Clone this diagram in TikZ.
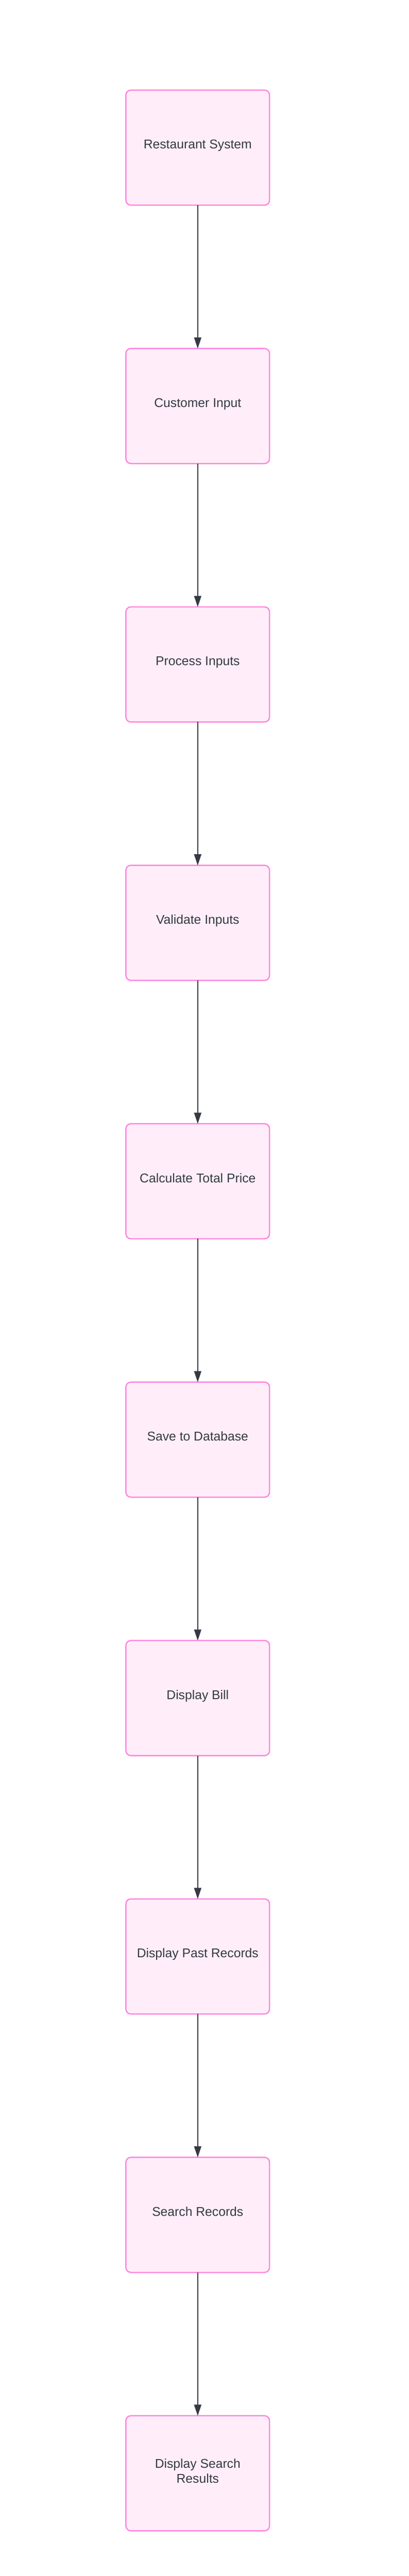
\documentclass[tikz,border=0pt]{standalone}
\usepackage{fontspec}
\setmainfont{Liberation Sans}
\usepackage{tikz}
\usetikzlibrary{positioning,arrows.meta}

\definecolor{boksrand}{RGB}{255,133,223}
\definecolor{boksfyll}{RGB}{255,238,249}
\definecolor{strek}{RGB}{53,57,68}

\begin{document}
\begin{tikzpicture}[
    steg/.style={draw=boksrand, fill=boksfyll, line width=1.65pt, rounded corners=6.5pt,
                 minimum width=188.5pt, minimum height=151pt, outer sep=0pt,
                 text height=12pt, text depth=9pt,
                 align=center, text=strek, font=\fontsize{16.7}{19.6}\selectfont},
    pil/.style={draw=strek, line width=1pt, -{Triangle[length=14.5pt,width=9.5pt]}},
    node distance=188.1pt
  ]
           % Ramme
           \useasboundingbox (0,0) rectangle (536.5pt,-3380.5pt);

           % Boksene
           \node[steg] (system) at (259.5pt,-193.75pt) {Restaurant System};
           \node[steg, below=of system] (input) {Customer Input};
           \node[steg, below=of input] (process) {Process Inputs};
           \node[steg, below=of process] (validate) {Validate Inputs};
           \node[steg, below=of validate] (price) {Calculate Total Price};
           \node[steg, below=of price] (save) {Save to Database};
           \node[steg, below=of save] (bill) {Display Bill};
           \node[steg, below=of bill] (past) {Display Past Records};
           \node[steg, below=of past] (search) {Search Records};
           % to linjer
           \node[steg, below=of search, text height=35pt, text depth=8.8pt] (results) {Display Search\\Results};

           % Pilene
           \draw[pil] (system) -- (input);
           \draw[pil] (input) -- (process);
           \draw[pil] (process) -- (validate);
           \draw[pil] (validate) -- (price);
           \draw[pil] (price) -- (save);
           \draw[pil] (save) -- (bill);
           \draw[pil] (bill) -- (past);
           \draw[pil] (past) -- (search);
           \draw[pil] (search) -- (results);

         \end{tikzpicture}
\end{document}
